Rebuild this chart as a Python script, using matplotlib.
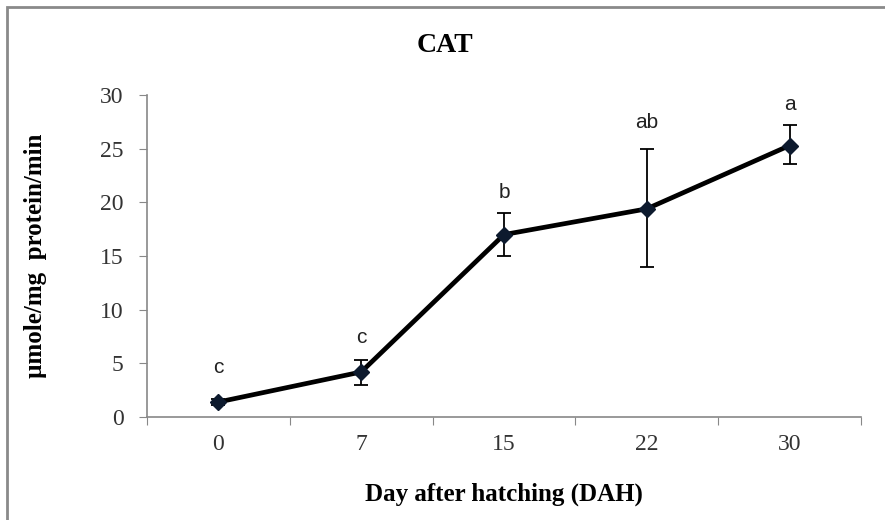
import matplotlib.pyplot as plt
from matplotlib.patches import Rectangle
import numpy as np

# data
days = ["0", "7", "15", "22", "30"]
cat_mean = [1.4, 4.2, 17.0, 19.4, 25.3]
err_low = [0.3, 1.2, 2.0, 5.4, 1.7]
err_high = [0.3, 1.1, 2.0, 5.6, 1.9]
letters = ["c", "c", "b", "ab", "a"]
letter_y = [4.6, 7.4, 20.9, 27.4, 29.1]

fig = plt.figure(figsize=(8.85, 5.2), dpi=100)
ax = fig.add_axes([0.1661, 0.198, 0.8068, 0.6192])

# grey frame round the chart area (runs off the right and bottom)
fig.patches.append(Rectangle((7 / 885, -0.05), 1.0, 1 - 7 / 520 + 0.05,
                             transform=fig.transFigure, fill=False,
                             edgecolor="#8a8a8a", linewidth=2.0))

x = np.arange(len(days))
ax.errorbar(x, cat_mean, yerr=[err_low, err_high], color="black",
            linewidth=3.4, marker="D", markersize=8, markerfacecolor="#0d1a2e",
            markeredgecolor="#0d1a2e", ecolor="black", elinewidth=1.3,
            capsize=5, capthick=1.3, zorder=3)

for xi, lab, ly in zip(x, letters, letter_y):
    ax.text(xi, ly, lab, ha="center", va="center", fontsize=15,
            family="Liberation Sans", color="#222222")

ax.set_xlim(-0.5, len(days) - 0.5)
ax.set_ylim(0, 30)
ax.set_yticks(range(0, 31, 5))
ax.set_xticks(np.arange(-0.5, len(days), 1.0))
ax.set_xticklabels([])
ax.set_xticks(x, minor=True)
ax.set_xticklabels(days, minor=True)
ax.tick_params(axis="x", which="minor", length=0, pad=12)
ax.tick_params(axis="x", which="major", length=6, color="#888888", direction="out")
ax.tick_params(axis="y", length=6, color="#888888", direction="out", pad=11)

for t in ax.get_xticklabels(minor=True) + ax.get_yticklabels():
    t.set_fontfamily("Liberation Serif")
    t.set_fontsize(17)
    t.set_color("#333333")

for s in ["top", "right"]:
    ax.spines[s].set_visible(False)
for s in ["left", "bottom"]:
    ax.spines[s].set_color("#888888")
    ax.spines[s].set_linewidth(1.2)

ax.set_xlabel("Day after hatching (DAH)", fontsize=18, fontweight="bold",
              family="Liberation Serif", labelpad=20)
ax.set_ylabel("µmole/mg  protein/min", fontsize=18, fontweight="bold",
              family="Liberation Serif", labelpad=38)
fig.text(0.503, 0.913, "CAT", ha="center", va="center", fontsize=20,
         fontweight="bold", family="Liberation Serif")

fig.savefig("out.png", dpi=100)
